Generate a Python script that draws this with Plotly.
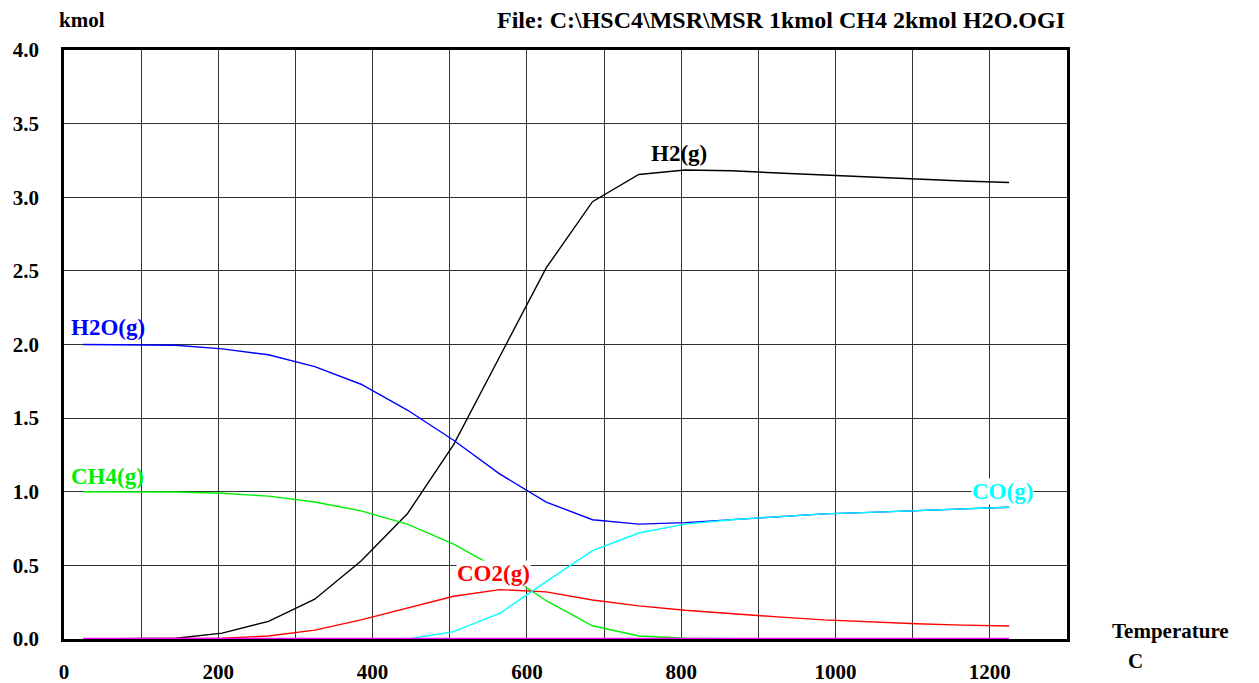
import plotly.graph_objects as go

temperature = [25, 85, 145, 205, 265, 325, 385, 445, 505, 565, 625, 685, 745, 805, 865, 925, 985, 1045, 1105, 1165, 1225]
h2 = [0.0, 0.0, 0.005, 0.04, 0.12, 0.27, 0.53, 0.85, 1.32, 1.92, 2.52, 2.97, 3.155, 3.185, 3.18, 3.165, 3.15, 3.135, 3.125, 3.11, 3.10]
h2o = [2.0, 2.0, 1.995, 1.97, 1.93, 1.85, 1.73, 1.555, 1.35, 1.12, 0.93, 0.81, 0.78, 0.79, 0.81, 0.83, 0.85, 0.86, 0.87, 0.88, 0.895]
ch4 = [1.0, 1.0, 0.998, 0.99, 0.97, 0.93, 0.87, 0.78, 0.645, 0.47, 0.26, 0.09, 0.02, 0.005, 0.0, 0.0, 0.0, 0.0, 0.0, 0.0, 0.0]
co2 = [0.0, 0.0, 0.0, 0.005, 0.02, 0.06, 0.13, 0.21, 0.29, 0.335, 0.32, 0.265, 0.225, 0.195, 0.17, 0.15, 0.13, 0.116, 0.104, 0.094, 0.088]
co = [0.0, 0.0, 0.0, 0.0, 0.0, 0.0, 0.0, 0.0, 0.05, 0.175, 0.39, 0.60, 0.72, 0.78, 0.81, 0.83, 0.85, 0.86, 0.87, 0.88, 0.895]
carbon = [0.0] * len(temperature)

x_tickvals = [0, 100, 200, 300, 400, 500, 600, 700, 800, 900, 1000, 1100, 1200]
x_ticktext = ["0", "", "200", "", "400", "", "600", "", "800", "", "1000", "", "1200"]
y_tickvals = [0.0, 0.5, 1.0, 1.5, 2.0, 2.5, 3.0, 3.5, 4.0]
y_ticktext = ["0.0", "0.5", "1.0", "1.5", "2.0", "2.5", "3.0", "3.5", "4.0"]

FONT = "Liberation Serif"
TXT = 21
LAB = 23

series = [
    ("H2(g)", h2, "#000000"),
    ("H2O(g)", h2o, "#0000ff"),
    ("CH4(g)", ch4, "#00ee00"),
    ("CO2(g)", co2, "#ff0000"),
    ("CO(g)", co, "#00ffff"),
]

fig = go.Figure()
for name, vals, col in series:
    fig.add_trace(go.Scatter(x=temperature, y=vals, mode="lines", name=name,
                             line=dict(color=col, width=1.4), showlegend=False))
fig.add_trace(go.Scatter(x=temperature, y=carbon, mode="lines", name="C",
                         line=dict(color="#ff00ff", width=2.5), showlegend=False))

labels = [
    ("H2O(g)", 8, 2.115, "left", "#0000ff", None),
    ("CH4(g)", 8, 1.105, "left", "#00ee00", None),
    ("H2(g)", 797, 3.30, "center", "#000000", None),
    ("CO2(g)", 557, 0.445, "center", "#ff0000", "white"),
    ("CO(g)", 1217, 1.0, "center", "#00ffff", "white"),
]
for txt, xv, yv, anc, col, bg in labels:
    fig.add_annotation(x=xv, y=yv, xref="x", yref="y", text="<b>%s</b>" % txt,
                       showarrow=False, xanchor=anc, yanchor="middle",
                       font=dict(family=FONT, size=LAB, color=col),
                       bgcolor=bg if bg else "rgba(0,0,0,0)", borderpad=0)

fig.add_annotation(x=-0.007, y=1.051, xref="paper", yref="paper", text="<b>kmol</b>",
                   showarrow=False, xanchor="left", yanchor="middle",
                   font=dict(family=FONT, size=TXT, color="black"))
fig.add_annotation(x=1.0, y=1.051, xref="paper", yref="paper",
                   text="<b>File: C:\\HSC4\\MSR\\MSR 1kmol CH4 2kmol H2O.OGI</b>",
                   showarrow=False, xanchor="right", yanchor="middle",
                   font=dict(family=FONT, size=24, color="black"))
fig.add_annotation(x=1.043, y=0.0136, xref="paper", yref="paper", text="<b>Temperature</b>",
                   showarrow=False, xanchor="left", yanchor="middle",
                   font=dict(family=FONT, size=TXT, color="black"))
fig.add_annotation(x=1.068, y=-0.037, xref="paper", yref="paper", text="<b>C</b>",
                   showarrow=False, xanchor="center", yanchor="middle",
                   font=dict(family=FONT, size=TXT, color="black"))

fig.update_xaxes(range=[0, 1300], tickvals=x_tickvals, ticktext=x_ticktext,
                 showgrid=True, gridcolor="#333333", gridwidth=1,
                 showline=True, linecolor="black", linewidth=2.5, mirror=True,
                 zeroline=False, ticks="", ticklabelstandoff=12,
                 tickfont=dict(family=FONT, size=TXT, color="black", weight="bold"))
fig.update_yaxes(range=[0, 4.0], tickvals=y_tickvals, ticktext=y_ticktext,
                 showgrid=True, gridcolor="#333333", gridwidth=1,
                 showline=True, linecolor="black", linewidth=2.5, mirror=True,
                 zeroline=False, ticks="", ticklabelstandoff=18,
                 tickfont=dict(family=FONT, size=TXT, color="black", weight="bold"))

fig.update_layout(width=1251, height=675, plot_bgcolor="white", paper_bgcolor="white",
                  margin=dict(l=56, r=192, t=42, b=44, autoexpand=False),
                  font=dict(family=FONT, color="black"))

fig.write_html("out.html")
